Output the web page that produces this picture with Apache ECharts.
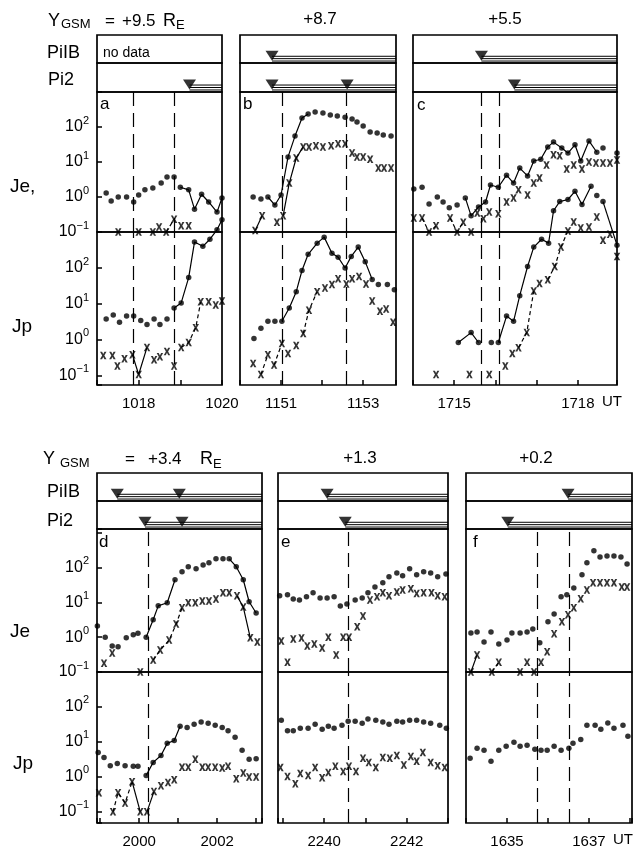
<!DOCTYPE html>
<html>
<head>
<meta charset="utf-8">
<script src="https://cdn.jsdelivr.net/npm/echarts@6/dist/echarts.min.js"></script>
<style>
  html, body { margin: 0; padding: 0; background: #fff; }
  #chart { width: 635px; height: 846px; }
</style>
</head>
<body>
<div id="chart"></div>
<script>

// panel a  (Y = +9.5)
const aJeDot = [[1017.22,1.3],[1017.34,0.77],[1017.51,1.0],[1017.71,1.0],[1017.88,0.72],[1018.0,1.14],[1018.15,1.6],[1018.34,1.8],[1018.54,2.5],[1018.68,3.7],[1018.85,3.7],[1019.0,1.9],[1019.2,1.6],[1019.34,0.45],[1019.51,1.2],[1019.68,0.72],[1019.88,0.37],[1020.0,0.94]]
const aJeDotSeg = [[11,17]]
const aJeX = [[1017.51,0.1],[1018.0,0.1],[1018.34,0.1],[1018.49,0.14],[1018.66,0.1],[1018.85,0.23],[1019.02,0.15],[1019.2,0.15]]
const aJeXSeg = [[4,5,1]]
const aJpDot = [[1017.22,3.8],[1017.39,4.9],[1017.54,3.1],[1017.71,4.6],[1017.88,4.6],[1018.05,3.5],[1018.2,2.7],[1018.37,3.8],[1018.51,2.7],[1018.68,3.8],[1018.85,7.7],[1019.02,10.7],[1019.2,54],[1019.34,525],[1019.54,400],[1019.71,630],[1019.88,1150],[1020.0,2200]]
const aJpDotSeg = [[10,17]]
const aJpX = [[1017.15,0.37],[1017.37,0.37],[1017.49,0.19],[1017.66,0.3],[1017.85,0.39],[1018.0,0.11],[1018.2,0.62],[1018.37,0.28],[1018.51,0.34],[1018.68,0.48],[1018.85,0.19],[1019.02,0.62],[1019.2,0.85],[1019.37,2.2],[1019.49,11.5],[1019.68,11.5],[1019.85,9.3],[1020.0,12]]
const aJpXSeg = [[4,6,0],[11,14,1]]
const aOnset = [1017.88, 1018.85]
const aPiIB = []
const aPi2 = [1019.22]

// panel b  (+8.7)
const bJeDot = [[1150.32,1.0],[1150.51,0.88],[1150.68,1.0],[1150.85,0.59],[1151.0,1.14],[1151.17,14],[1151.34,55],[1151.51,180],[1151.66,235],[1151.83,270],[1152.02,250],[1152.2,220],[1152.37,205],[1152.56,190],[1152.73,170],[1152.85,140],[1153.0,107],[1153.17,72],[1153.34,67],[1153.49,59],[1153.68,55]]
const bJeDotSeg = [[2,8]]
const bJeX = [[1150.37,0.11],[1150.54,0.29],[1150.9,0.19],[1151.05,0.29],[1151.2,2.5],[1151.37,13],[1151.54,27],[1151.68,27],[1151.85,29],[1152.02,27],[1152.22,29],[1152.39,33],[1152.56,33],[1152.73,18],[1152.85,14],[1153.0,14],[1153.17,12],[1153.37,6.7],[1153.51,6.7],[1153.68,6.7]]
const bJeXSeg = [[0,1,0],[3,6,0]]
const bJpDot = [[1150.34,1.1],[1150.51,2.1],[1150.68,3.3],[1150.85,3.3],[1151.02,3.3],[1151.2,7.7],[1151.37,22],[1151.51,85],[1151.66,240],[1151.88,490],[1152.05,720],[1152.24,255],[1152.39,200],[1152.56,100],[1152.71,210],[1152.88,380],[1153.05,150],[1153.22,48],[1153.37,35],[1153.59,35],[1153.76,25]]
const bJpDotSeg = [[4,17]]
const bJpX = [[1150.32,0.22],[1150.51,0.11],[1150.68,0.39],[1150.83,0.2],[1151.02,0.8],[1151.17,0.42],[1151.37,0.7],[1151.54,1.5],[1151.68,6.7],[1151.88,22],[1152.07,28],[1152.24,35],[1152.39,50],[1152.59,36],[1152.73,50],[1152.9,58],[1153.07,36],[1153.22,12],[1153.41,6.3],[1153.56,7.2],[1153.73,3.1]]
const bJpXSeg = [[1,2,1],[3,4,1],[7,9,1]]
const bOnset = [1151.02, 1152.59]
const bPiIB = [1150.78]
const bPi2 = [1150.78, 1152.61]

// panel c  (+5.5)
const cJeDot = [[1714.02,1.7],[1714.22,1.9],[1714.39,0.63],[1714.59,1.0],[1714.73,0.72],[1714.88,0.49],[1715.07,0.59],[1715.27,0.94],[1715.41,0.29],[1715.59,0.52],[1715.76,0.72],[1715.88,2.2],[1716.07,1.9],[1716.27,4.2],[1716.44,2.5],[1716.59,6.7],[1716.78,4.0],[1716.93,10.7],[1717.1,12],[1717.27,27],[1717.41,37],[1717.61,25],[1717.76,18],[1717.93,31],[1718.07,10.7],[1718.27,40],[1718.46,19],[1718.61,25],[1718.95,18]]
const cJeDotSeg = [[7,26]]
const cJeX = [[1714.02,0.25],[1714.22,0.25],[1714.39,0.1],[1714.56,0.15],[1714.9,0.25],[1715.07,0.1],[1715.22,0.19],[1715.41,0.1],[1715.56,0.35],[1715.71,0.24],[1715.85,0.37],[1716.07,0.33],[1716.27,0.72],[1716.44,0.94],[1716.56,1.6],[1716.78,1.14],[1716.93,2.5],[1717.07,3.5],[1717.24,8.2],[1717.41,16],[1717.56,15],[1717.73,6.3],[1717.9,8.2],[1718.1,6.3],[1718.27,10],[1718.44,9.4],[1718.61,9.4],[1718.78,9.4],[1718.95,11.5]]
const cJeXSeg = [[1,3,1],[4,6,1]]
const cJpDot = [[1715.1,0.85],[1715.41,1.6],[1715.59,0.85],[1715.9,0.85],[1716.07,0.85],[1716.27,4.6],[1716.44,3.3],[1716.59,17],[1716.78,110],[1716.93,380],[1717.12,630],[1717.29,490],[1717.41,3900],[1717.56,7000],[1717.76,8000],[1717.93,13500],[1718.1,5800],[1718.32,18600],[1718.46,10300],[1718.61,7000],[1718.95,430]]
const cJpDotSeg = [[0,2],[4,17],[19,20]]
const cJpX = [[1714.56,0.11],[1715.37,0.11],[1715.85,0.11],[1716.24,0.19],[1716.41,0.42],[1716.56,0.61],[1716.76,1.6],[1716.93,23],[1717.07,37],[1717.27,47],[1717.44,110],[1717.59,380],[1717.76,1070],[1717.9,1900],[1718.07,1300],[1718.27,1380],[1718.46,2600],[1718.61,590],[1718.78,870],[1718.95,210]]
const cJpXSeg = [[5,7,1],[9,12,1]]
const cOnset = [1715.66, 1716.1]
const cPiIB = [1715.66]
const cPi2 = [1716.46]

// panel d  (+3.4)
const dJeDot = [[1998.93,2.1],[1999.13,1.0],[1999.31,0.56],[1999.46,0.53],[1999.67,0.96],[1999.85,1.17],[1999.97,1.3],[2000.18,1.0],[2000.36,3.2],[2000.49,8.0],[2000.72,9.8],[2000.92,45],[2001.1,76],[2001.26,107],[2001.46,94],[2001.64,120],[2001.79,138],[2001.97,180],[2002.15,180],[2002.31,180],[2002.49,107],[2002.67,45],[2002.82,10.5],[2003.0,5.0]]
const dJeDotSeg = [[7,11],[19,23]]
const dJeX = [[1999.1,0.18],[1999.31,0.35],[2000.03,0.1],[2000.36,0.22],[2000.54,0.43],[2000.77,0.83],[2000.95,2.4],[2001.1,7.0],[2001.26,9.8],[2001.44,9.8],[2001.62,11],[2001.79,11],[2001.97,12.6],[2002.15,19],[2002.31,19],[2002.51,15.5],[2002.67,7.4],[2002.85,0.96],[2003.03,0.73]]
const dJeXSeg = [[3,7,1],[15,17,0]]
const dJpDot = [[1998.95,5.0],[1999.1,3.6],[1999.26,2.1],[1999.44,2.4],[1999.64,2.1],[1999.85,2.0],[1999.97,2.0],[2000.18,1.1],[2000.36,2.6],[2000.56,4.1],[2000.72,9.1],[2000.9,11],[2001.05,28],[2001.23,26],[2001.41,32],[2001.59,37],[2001.77,34],[2001.95,30],[2002.13,26],[2002.28,21],[2002.46,13.5],[2002.64,5.8],[2002.82,3.2],[2003.0,3.3]]
const dJpDotSeg = [[7,12]]
const dJpX = [[1998.97,0.35],[1999.33,0.1],[1999.46,0.35],[1999.64,0.18],[1999.82,0.73],[2000.03,0.1],[2000.2,0.1],[2000.38,0.38],[2000.56,0.56],[2000.74,0.69],[2000.9,0.83],[2001.1,1.9],[2001.26,1.9],[2001.44,3.2],[2001.62,1.9],[2001.77,1.9],[2001.95,1.9],[2002.13,1.8],[2002.28,2.0],[2002.49,0.89],[2002.67,1.3],[2002.82,1.0],[2003.0,1.0]]
const dJpXSeg = [[1,4,1],[4,5,0],[6,7,0]]
const dOnset = [2000.23]
const dPiIB = [1999.44, 2001.03]
const dPi2 = [2000.15, 2001.1]

// panel e  (+1.3)
const eJeDot = [[2238.92,15.5],[2239.11,16.6],[2239.25,12.6],[2239.4,11.7],[2239.57,14.5],[2239.73,19],[2239.9,13.5],[2240.07,13.5],[2240.24,14.5],[2240.39,7.9],[2240.55,9.1],[2240.75,11.7],[2240.92,13.5],[2241.06,19],[2241.23,28],[2241.42,37],[2241.57,55],[2241.76,71],[2241.9,59],[2242.07,93],[2242.24,63],[2242.41,76],[2242.58,71],[2242.75,55],[2242.95,66]]
const eJeDotSeg = []
const eJeX = [[2238.96,0.78],[2239.11,0.19],[2239.25,0.89],[2239.45,0.95],[2239.59,0.56],[2239.76,0.64],[2239.95,0.49],[2240.1,1.0],[2240.29,0.31],[2240.46,1.0],[2240.6,1.0],[2240.8,2.0],[2240.94,4.1],[2241.11,11.7],[2241.28,14.5],[2241.42,19],[2241.57,15.5],[2241.76,20],[2241.9,23],[2242.1,25],[2242.24,18],[2242.41,19],[2242.6,19],[2242.75,15.5],[2242.92,14.5]]
const eJeXSeg = []
const eJpDot = [[2238.96,42],[2239.11,21],[2239.25,21],[2239.42,24.5],[2239.61,24.5],[2239.78,32],[2239.95,23],[2240.1,28],[2240.24,24.5],[2240.43,30],[2240.58,39],[2240.75,39],[2240.92,34],[2241.06,45],[2241.25,42],[2241.42,37],[2241.57,32],[2241.76,39],[2241.9,37],[2242.07,42],[2242.24,42],[2242.41,37],[2242.58,34],[2242.8,30],[2242.96,24.5]]
const eJpDotSeg = []
const eJpX = [[2238.94,1.86],[2239.11,1.02],[2239.3,0.64],[2239.42,1.25],[2239.61,1.1],[2239.78,1.86],[2239.95,0.95],[2240.1,1.33],[2240.27,2.0],[2240.46,1.42],[2240.6,2.0],[2240.77,1.42],[2240.94,3.4],[2241.08,2.6],[2241.25,1.86],[2241.42,3.6],[2241.59,3.4],[2241.76,4.1],[2241.93,2.2],[2242.1,3.8],[2242.24,2.8],[2242.39,5.0],[2242.58,2.6],[2242.75,2.1],[2242.92,1.86]]
const eJpXSeg = []
const eOnset = [2240.59]
const ePiIB = [2240.07]
const ePi2 = [2240.51]

// panel f  (+0.2)
const fJeDot = [[1634.12,1.33],[1634.27,1.42],[1634.44,0.73],[1634.61,1.42],[1634.8,0.64],[1635.0,0.83],[1635.12,1.33],[1635.32,1.33],[1635.49,1.42],[1635.63,1.74],[1635.8,0.69],[1636.0,2.8],[1636.15,4.7],[1636.32,14.5],[1636.46,16.6],[1636.63,26],[1636.83,63],[1636.95,138],[1637.12,309],[1637.27,205],[1637.44,219],[1637.61,219],[1637.78,205],[1637.93,129]]
const fJeDotSeg = []
const fJeX = [[1634.12,0.1],[1634.27,0.31],[1634.63,0.1],[1634.8,0.19],[1635.32,0.1],[1635.49,0.19],[1635.66,0.1],[1635.83,0.19],[1635.98,0.38],[1636.15,1.25],[1636.34,2.8],[1636.49,4.4],[1636.63,7.0],[1636.8,12.7],[1636.95,23],[1637.1,37],[1637.27,37],[1637.44,37],[1637.61,37],[1637.8,28],[1637.93,28]]
const fJeXSeg = [[0,1,0],[2,3,1]]
const fJpDot = [[1634.1,3.4],[1634.27,6.6],[1634.44,5.8],[1634.61,2.8],[1634.8,5.8],[1634.98,7.5],[1635.17,9.8],[1635.32,7.5],[1635.49,8.0],[1635.68,6.2],[1635.83,5.8],[1635.98,5.8],[1636.15,7.5],[1636.32,5.8],[1636.51,6.6],[1636.61,9.1],[1636.8,11.8],[1636.95,30],[1637.15,30],[1637.29,23],[1637.46,35],[1637.61,24.5],[1637.83,30],[1637.95,14.5]]
const fJpDotSeg = []
const fJpX = []
const fJpXSeg = []
const fOnset = [1635.73, 1636.51]
const fPiIB = [1636.49]
const fPi2 = [1635.02]

const yTitles = ['+9.5', '+8.7', '+5.5', '+3.4', '+1.3', '+0.2']

// layout
const FONT = '"Liberation Sans", Arial, sans-serif'
const XMARK = 'path://M0,0H3.2L5,3.1L6.8,0H10L6.7,5L10,10H6.8L5,6.9L3.2,10H0L3.3,5Z'
const rows = [
    {top: 35, s1: 28, s2: 29, je: 140, jp: 153, jeMax: 1000, jpMin: 0.056},
    {top: 473, s1: 28, s2: 28, je: 143, jp: 151, jeMax: 1300, jpMin: 0.048}
]
const panels = [
    {key: 'a', row: 0, left: 97, right: 222, min: 1017, max: 1020, labels: [1018, 1020], yLab: true,
        jeDot: aJeDot, jeDotSeg: aJeDotSeg, jeX: aJeX, jeXSeg: aJeXSeg, jpDot: aJpDot, jpDotSeg: aJpDotSeg, jpX: aJpX, jpXSeg: aJpXSeg, onset: aOnset, piib: aPiIB, pi2: aPi2},
    {key: 'b', row: 0, left: 240, right: 396, min: 1150, max: 1153.8, labels: [1151, 1153],
        jeDot: bJeDot, jeDotSeg: bJeDotSeg, jeX: bJeX, jeXSeg: bJeXSeg, jpDot: bJpDot, jpDotSeg: bJpDotSeg, jpX: bJpX, jpXSeg: bJpXSeg, onset: bOnset, piib: bPiIB, pi2: bPi2},
    {key: 'c', row: 0, left: 413, right: 617, min: 1714, max: 1718.95, labels: [1715, 1718],
        jeDot: cJeDot, jeDotSeg: cJeDotSeg, jeX: cJeX, jeXSeg: cJeXSeg, jpDot: cJpDot, jpDotSeg: cJpDotSeg, jpX: cJpX, jpXSeg: cJpXSeg, onset: cOnset, piib: cPiIB, pi2: cPi2},
    {key: 'd', row: 1, left: 97, right: 262, min: 1998.92, max: 2003.15, labels: [2000, 2002], yLab: true,
        jeDot: dJeDot, jeDotSeg: dJeDotSeg, jeX: dJeX, jeXSeg: dJeXSeg, jpDot: dJpDot, jpDotSeg: dJpDotSeg, jpX: dJpX, jpXSeg: dJpXSeg, onset: dOnset, piib: dPiIB, pi2: dPi2},
    {key: 'e', row: 1, left: 278, right: 448, min: 2238.88, max: 2243, labels: [2240, 2242],
        jeDot: eJeDot, jeDotSeg: eJeDotSeg, jeX: eJeX, jeXSeg: eJeXSeg, jpDot: eJpDot, jpDotSeg: eJpDotSeg, jpX: eJpX, jpXSeg: eJpXSeg, onset: eOnset, piib: ePiIB, pi2: ePi2},
    {key: 'f', row: 1, left: 466, right: 632, min: 1634, max: 1638.05, labels: [1635, 1637],
        jeDot: fJeDot, jeDotSeg: fJeDotSeg, jeX: fJeX, jeXSeg: fJeXSeg, jpDot: fJpDot, jpDotSeg: fJpDotSeg, jpX: fJpX, jpXSeg: fJpXSeg, onset: fOnset, piib: fPiIB, pi2: fPi2}
]

const grids = [], xAxes = [], yAxes = [], series = []

function logAxis(idx, min, max, withLabels) {
    return {
        gridIndex: idx, type: 'log', logBase: 10, min, max,
        axisLine: {show: false}, splitLine: {show: false},
        axisTick: {show: withLabels, inside: true, length: 5, lineStyle: {color: '#000', width: 1.5}},
        axisLabel: {
            show: withLabels, margin: 8, color: '#000', fontFamily: FONT,
            formatter: (v) => {
                const l = Math.log10(v), e = Math.round(l)
                if (Math.abs(l - e) > 0.01 || e > 2) return ''
                return '{b|10}{s|' + (e < 0 ? '\u2212' : '') + Math.abs(e) + '}'
            },
            rich: {
                b: {fontSize: 16, lineHeight: 24, fontFamily: FONT, color: '#000'},
                s: {fontSize: 11, lineHeight: 10, verticalAlign: 'top', fontFamily: FONT, color: '#000'}
            }
        }
    }
}

function marks(data, idx, symbol, size) {
    return {type: 'scatter', xAxisIndex: idx, yAxisIndex: idx, data, symbol, symbolSize: size,
        itemStyle: {color: '#000'}, clip: false, silent: true, z: 3}
}

function links(data, segs, idx) {
    return segs.map(([i0, i1, dash]) => ({
        type: 'line', xAxisIndex: idx, yAxisIndex: idx, data: data.slice(i0, i1 + 1),
        symbol: 'none', clip: false, silent: true, z: 2,
        lineStyle: {color: '#000', width: 1.2, type: dash ? [4, 3] : 'solid'}
    }))
}

panels.forEach((p) => {
    const r = rows[p.row]
    const w = p.right - p.left
    const heights = [r.s1, r.s2, r.je, r.jp]
    const base = grids.length
    let top = r.top
    heights.forEach((h) => {
        grids.push({left: p.left, top, width: w, height: h, show: true, borderColor: '#000', borderWidth: 1.7,
            backgroundColor: 'transparent', containLabel: false, outerBoundsMode: 'none'})
        top += h
    })
    // strips + Je: hidden time axes
    for (let i = 0; i < 3; i++) {
        xAxes.push({gridIndex: base + i, type: 'value', min: p.min, max: p.max, show: false})
    }
    yAxes.push({gridIndex: base, type: 'value', min: 0, max: 1, show: false})
    yAxes.push({gridIndex: base + 1, type: 'value', min: 0, max: 1, show: false})
    yAxes.push(logAxis(base + 2, 0.1, r.jeMax, !!p.yLab))
    // Jp: visible time axis
    xAxes.push({
        gridIndex: base + 3, type: 'value', min: p.min, max: p.max, minInterval: 1, maxInterval: 1,
        axisLine: {show: false}, splitLine: {show: false},
        axisTick: {inside: true, length: 5, lineStyle: {color: '#000', width: 1.5}},
        axisLabel: {
            color: '#000', fontSize: 15, fontFamily: FONT, margin: 11,
            formatter: (v) => (Math.abs(v - Math.round(v)) < 1e-6 && p.labels.includes(Math.round(v))) ? String(Math.round(v)) : ''
        }
    })
    yAxes.push(logAxis(base + 3, r.jpMin, 1000, !!p.yLab))

    // PiIB / Pi2 onsets
    ;[p.piib, p.pi2].forEach((on, i) => {
        if (!on.length) return
        const idx = base + i
        ;[0.07, 0.155, 0.24].forEach((lv) => {
            series.push({type: 'line', xAxisIndex: idx, yAxisIndex: idx, data: [[Math.min(...on), lv], [p.max, lv]],
                symbol: 'none', silent: true, z: 2, lineStyle: {color: '#000', width: 1}})
        })
        series.push({type: 'scatter', xAxisIndex: idx, yAxisIndex: idx, data: on.map((t) => [t, 0.26]),
            symbol: 'triangle', symbolRotate: 180, symbolSize: [13, 10], itemStyle: {color: '#000'}, silent: true, z: 4})
    })

    const onsetLine = {
        silent: true, symbol: 'none', label: {show: false},
        lineStyle: {color: '#000', width: 1.2, type: [14, 7]},
        data: p.onset.map((t) => ({xAxis: t}))
    }
    // Je
    const je = base + 2
    series.push(...links(p.jeDot, p.jeDotSeg, je), ...links(p.jeX, p.jeXSeg, je))
    series.push(Object.assign(marks(p.jeDot, je, 'circle', 5.5), {markLine: onsetLine}))
    series.push(marks(p.jeX, je, XMARK, [6.5, 7.5]))
    // Jp
    const jp = base + 3
    series.push(...links(p.jpDot, p.jpDotSeg, jp), ...links(p.jpX, p.jpXSeg, jp))
    series.push(Object.assign(marks(p.jpDot, jp, 'circle', 5.5), {markLine: onsetLine}))
    series.push(marks(p.jpX, jp, XMARK, [6.5, 7.5]))
})

function txt(text, x, y, size, align, extra) {
    return {type: 'text', x, y, silent: true,
        style: Object.assign({text, fontSize: size, fontFamily: FONT, fill: '#000',
            textAlign: align || 'left', textVerticalAlign: 'middle'}, extra || {})}
}

const graphic = [
    // upper row header
    txt('Y', 48, 21, 18), txt('GSM', 61, 24, 13), txt('=', 105, 21, 17), txt(yTitles[0], 122, 21, 17),
    txt('R', 163, 21, 18), txt('E', 176, 25, 13),
    txt(yTitles[1], 320, 19, 17, 'center'), txt(yTitles[2], 505, 19, 17, 'center'),
    txt('PiIB', 47, 53, 18), txt('Pi2', 48, 80, 18), txt('no data', 103, 53, 14),
    txt('Je,', 10, 187, 19), txt('Jp', 12, 327, 19),
    txt('a', 100, 104, 17), txt('b', 243, 104, 17), txt('c', 417, 105, 17),
    txt('UT', 602, 402, 15),
    // lower row header
    txt('Y', 43, 459, 18), txt('GSM', 60, 463, 13), txt('=', 125, 459, 17), txt(yTitles[3], 148, 459, 17),
    txt('R', 200, 459, 18), txt('E', 213, 464, 13),
    txt(yTitles[4], 360, 458, 17, 'center'), txt(yTitles[5], 536, 458, 17, 'center'),
    txt('PiIB', 47, 492, 18), txt('Pi2', 47, 521, 18),
    txt('Je', 10, 632, 19), txt('Jp', 13, 764, 19),
    txt('d', 99, 542, 17), txt('e', 281, 542, 17), txt('f', 473, 542, 17),
    txt('UT', 613, 840, 15)
]

const chart = echarts.init(document.getElementById('chart'), null, {renderer: 'canvas'})
chart.setOption({
    backgroundColor: '#fff',
    animation: false,
    grid: grids,
    xAxis: xAxes,
    yAxis: yAxes,
    series,
    graphic
})
</script>
</body>
</html>
